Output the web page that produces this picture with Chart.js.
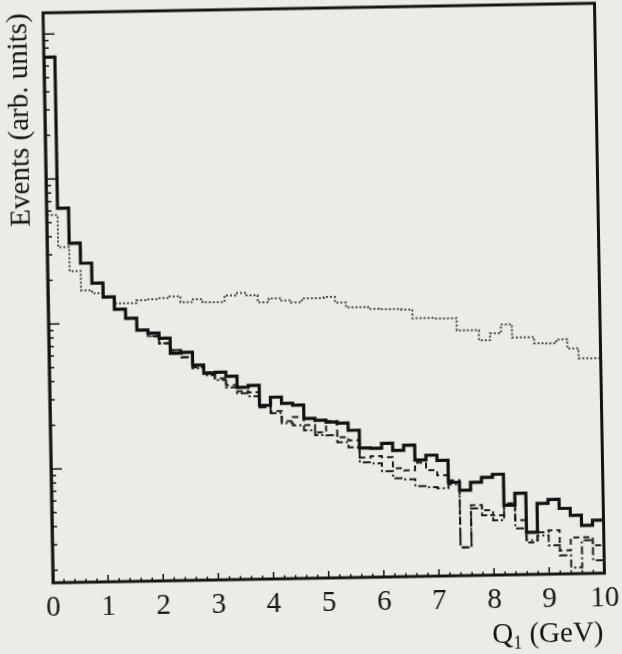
<!DOCTYPE html>
<html>
<head>
<meta charset="utf-8">
<script src="https://cdn.jsdelivr.net/npm/chart.js@4.4.1/dist/chart.umd.min.js"></script>
<style>
  html, body { margin: 0; padding: 0; background: #ecebe5; overflow: hidden; }
  #wrap { position: relative; width: 622px; height: 654px; transform: rotate(-1deg); transform-origin: 326px 293px; }
  canvas { display: block; }
</style>
</head>
<body>
<div id="wrap"><canvas id="c" width="622" height="654"></canvas></div>
<script>
// Q1 distribution, 50 bins of 0.2 GeV from 0 to 10 GeV (arbitrary units, log scale)
const binWidth = 0.2;
const xMin = 0, xMax = 10;
const yMin = 0.164, yMax = 1400;
const xTickLabels = ['0', '1', '2', '3', '4', '5', '6', '7', '8', '9', '10'];

const solidHist = [692, 62.7, 35.8, 26.0, 18.9, 15.1, 12.4, 10.7, 8.84, 8.40,
  7.73, 6.07, 6.15, 4.99, 4.38, 4.43, 4.15, 3.47, 3.57, 2.59,
  2.94, 2.66, 2.57, 2.08, 2.01, 1.95, 1.91, 1.70, 1.28, 1.27,
  1.37, 1.22, 1.32, 1.04, 1.12, 1.03, 0.724, 0.636, 0.720, 0.777,
  0.812, 0.495, 0.597, 0.320, 0.506, 0.537, 0.464, 0.414, 0.352, 0.381];

const dashedHist = [692, 62.7, 35.8, 26.0, 18.9, 15.1, 12.4, 10.7, 8.84, 8.0,
  7.14, 6.37, 5.68, 4.83, 4.45, 4.03, 3.60, 3.26, 3.20, 2.59,
  2.35, 2.00, 2.13, 1.87, 1.66, 1.98, 1.53, 1.45, 1.10, 1.12,
  1.10, 0.918, 0.887, 1.00, 0.883, 0.812, 0.748, 0.257, 0.500, 0.460,
  0.424, 0.511, 0.389, 0.273, 0.319, 0.329, 0.238, 0.292, 0.292, 0.256];

const dashDotHist = [692, 62.7, 35.8, 26.0, 18.9, 15.1, 12.4, 10.7, 8.84, 8.0,
  7.14, 6.37, 5.68, 4.75, 4.24, 3.91, 3.48, 3.16, 3.00, 2.51,
  2.28, 1.94, 1.87, 1.72, 1.59, 1.58, 1.41, 1.30, 1.02, 1.00,
  0.879, 0.784, 0.769, 0.687, 0.673, 0.660, 0.702, 0.257, 0.476, 0.425,
  0.391, 0.495, 0.342, 0.282, 0.304, 0.259, 0.220, 0.181, 0.278, 0.202];

const dottedHist = [56.3, 33.8, 23.0, 16.9, 16.1, 15.1, 13.6, 13.6, 14.2, 14.4,
  14.6, 15.0, 13.6, 14.2, 13.5, 13.5, 15.0, 15.5, 14.9, 13.3,
  14.1, 13.6, 13.2, 14.0, 14.0, 14.2, 13.0, 12.0, 12.0, 11.6,
  11.5, 11.5, 11.4, 9.9, 9.9, 9.8, 9.8, 8.07, 8.05, 6.84,
  7.62, 8.77, 7.11, 7.09, 6.42, 6.40, 6.80, 5.87, 5.00, 4.99];

// left edge of each bin
const binEdges = solidHist.map((_, i) => Math.round(i * binWidth * 10) / 10);

// outline points for a step histogram: rise from the baseline at x=0, then one step per bin
function outline(values) {
  const pts = [{ x: xMin, y: yMin }];
  values.forEach((v, i) => pts.push({ x: binEdges[i], y: v }));
  pts.push({ x: xMax, y: values[values.length - 1] });
  return pts;
}

const serif = '"Liberation Serif", "Times New Roman", serif';
const ink = '#141414';

// frame, inward tick marks and the x-axis title
const framePlugin = {
  id: 'frame',
  beforeDraw(chart) {
    const ctx = chart.ctx;
    ctx.save();
    ctx.fillStyle = '#ecebe5';
    ctx.fillRect(0, 0, chart.width, chart.height);
    ctx.restore();
  },
  afterDraw(chart) {
    const { ctx, chartArea: a, scales: { x, y } } = chart;
    ctx.save();
    ctx.strokeStyle = ink;
    ctx.lineWidth = 1.5;
    ctx.beginPath();
    // y ticks: 1..9 per decade
    for (let k = -1; k <= 3; k++) {
      for (let m = 1; m <= 9; m++) {
        const v = m * Math.pow(10, k);
        if (v <= yMin || v >= yMax) continue;
        const py = y.getPixelForValue(v);
        const len = m === 1 ? 11 : 5;
        ctx.moveTo(a.left, py);
        ctx.lineTo(a.left + len, py);
      }
    }
    // x ticks every bin, longer at whole GeV
    for (let i = 1; i < 50; i++) {
      const v = i * binWidth;
      const px = x.getPixelForValue(v);
      const len = i % 5 === 0 ? 7 : 3.5;
      ctx.moveTo(px, a.bottom);
      ctx.lineTo(px, a.bottom - len);
    }
    ctx.stroke();

    ctx.lineWidth = 3;
    ctx.strokeRect(a.left, a.top, a.right - a.left, a.bottom - a.top);

    // x-axis title with subscript
    ctx.fillStyle = ink;
    ctx.textBaseline = 'alphabetic';
    const big = '29px ' + serif, small = '18px ' + serif;
    ctx.font = big;
    const wQ = ctx.measureText('Q').width;
    const wRest = ctx.measureText(' (GeV)').width;
    ctx.font = small;
    const wSub = ctx.measureText('1').width;
    const right = a.right - 2;
    const base = 646;
    let cx = right - (wQ + wSub + wRest);
    ctx.font = big;
    ctx.fillText('Q', cx, base);
    cx += wQ;
    ctx.font = small;
    ctx.fillText('1', cx, base + 6);
    cx += wSub;
    ctx.font = big;
    ctx.fillText(' (GeV)', cx, base);
    ctx.restore();
  }
};

new Chart(document.getElementById('c'), {
  type: 'line',
  data: {
    datasets: [
      { label: 'solid', data: outline(solidHist), borderColor: '#111', borderWidth: 3.2, stepped: 'before' },
      { label: 'dashed', data: outline(dashedHist), borderColor: '#1c1c1c', borderWidth: 2, borderDash: [6, 4], stepped: 'before' },
      { label: 'dash-dot', data: outline(dashDotHist), borderColor: '#1c1c1c', borderWidth: 2, borderDash: [8, 3, 2, 3], stepped: 'before' },
      { label: 'dotted', data: outline(dottedHist), borderColor: '#4a4a4a', borderWidth: 2, borderDash: [2, 2], stepped: 'before' }
    ]
  },
  options: {
    responsive: false,
    animation: false,
    events: [],
    layout: { padding: { top: 8, right: 18, left: 0, bottom: 0 } },
    elements: { point: { radius: 0 }, line: { tension: 0, fill: false, borderCapStyle: 'butt' } },
    plugins: { legend: { display: false }, tooltip: { enabled: false } },
    scales: {
      x: {
        type: 'linear', min: xMin, max: xMax,
        afterFit: s => { s.height = 76; },
        grid: { display: false, drawTicks: false },
        border: { display: false },
        ticks: {
          stepSize: 1, padding: 8, autoSkip: false, maxRotation: 0, color: ink,
          font: { family: serif, size: 29 },
          callback: v => xTickLabels[v]
        }
      },
      y: {
        type: 'logarithmic', min: yMin, max: yMax,
        afterFit: s => { s.width = 48; },
        grid: { display: false, drawTicks: false },
        border: { display: false },
        ticks: { display: false },
        title: {
          display: true, text: 'Events (arb. units)', align: 'end', color: ink,
          font: { family: serif, size: 29 }, padding: { top: 6, bottom: 0 }
        }
      }
    }
  },
  plugins: [framePlugin]
});
</script>
</body>
</html>
